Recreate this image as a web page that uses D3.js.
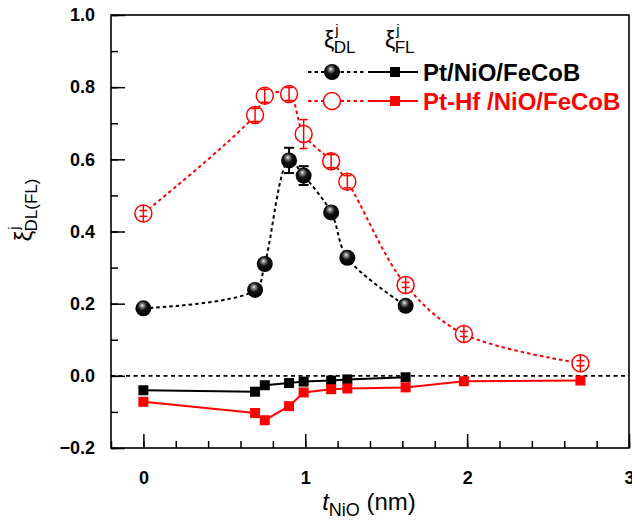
<!DOCTYPE html>
<html>
<head>
<meta charset="utf-8">
<script src="https://cdn.jsdelivr.net/npm/d3@7"></script>
<style>
  body { margin: 0; background: #fff; }
  text { font-family: "Liberation Sans", Arial, sans-serif; }
</style>
</head>
<body>
<svg id="chart" width="632" height="522"></svg>
<script>
// thickness of NiO (nm)
const xPt = [0, 0.69, 0.75, 0.90, 0.99, 1.16, 1.26, 1.62];
const xPtHf = [0, 0.69, 0.75, 0.90, 0.99, 1.16, 1.26, 1.62, 1.98, 2.70];

// damping-like (DL) and field-like (FL) efficiencies
const dlPt = [0.187, 0.238, 0.310, 0.597, 0.555, 0.453, 0.327, 0.194];
const dlPtErr = [0.008, 0.008, 0.008, 0.035, 0.026, 0.015, 0.008, 0.008];
const flPt = [-0.040, -0.044, -0.026, -0.020, -0.016, -0.013, -0.010, -0.004];

const dlPtHf = [0.450, 0.723, 0.776, 0.781, 0.670, 0.595, 0.538, 0.252, 0.116, 0.035];
const dlPtHfErr = [0.008, 0.018, 0.018, 0.018, 0.04, 0.018, 0.017, 0.007, 0.007, 0.007];
const flPtHf = [-0.072, -0.103, -0.123, -0.084, -0.046, -0.037, -0.035, -0.032, -0.015, -0.013];

const xTicks = [0, 1, 2, 3];
const yTicks = [-0.2, 0.0, 0.2, 0.4, 0.6, 0.8, 1.0];
const legendNames = ["Pt/NiO/FeCoB", "Pt-Hf /NiO/FeCoB"];

const margin = {top: 15, bottom: 74, left: 111, right: 3};
const W = 632, H = 522;
const width = W - margin.left - margin.right;
const height = H - margin.top - margin.bottom;
const RED = "#ff0000";

const x = d3.scaleLinear().domain([-0.2, 3]).range([0, width]);
const y = d3.scaleLinear().domain([-0.2, 1.0]).range([height, 0]);

const svg = d3.select("#chart");
const defs = svg.append("defs");
const grad = defs.append("radialGradient")
    .attr("id", "ball")
    .attr("cx", "45%").attr("cy", "40%").attr("r", "60%")
    .attr("fx", "42%").attr("fy", "30%");
grad.append("stop").attr("offset", "0%").attr("stop-color", "#f4f4f4");
grad.append("stop").attr("offset", "18%").attr("stop-color", "#8a8a8a");
grad.append("stop").attr("offset", "48%").attr("stop-color", "#111");
grad.append("stop").attr("offset", "100%").attr("stop-color", "#000");

const g = svg.append("g")
    .attr("transform", `translate(${margin.left},${margin.top})`);

// axes with inward ticks
const xMinor = d3.range(-0.2, 3.0001, 0.2);
const yMinor = d3.range(-0.2, 1.0001, 0.1);

g.append("g")
    .attr("transform", `translate(0,${height})`)
    .call(d3.axisBottom(x).tickValues(xMinor).tickSize(-7).tickFormat(""))
    .call(a => a.select(".domain").remove());
g.append("g")
    .attr("transform", `translate(0,${height})`)
    .call(d3.axisBottom(x).tickValues(xTicks).tickSize(-14).tickFormat(d3.format("d")).tickPadding(23))
    .call(a => a.select(".domain").remove());
g.append("g")
    .call(d3.axisLeft(y).tickValues(yMinor).tickSize(-7).tickFormat(""))
    .call(a => a.select(".domain").remove());
g.append("g")
    .call(d3.axisLeft(y).tickValues(yTicks).tickSize(-14).tickFormat(d3.format(".1f")).tickPadding(16))
    .call(a => a.select(".domain").remove());

g.selectAll(".tick line").attr("stroke", "#000").attr("stroke-width", 1.5);
g.selectAll(".tick text")
    .attr("font-family", "Liberation Sans, Arial, sans-serif")
    .attr("font-size", 18)
    .attr("font-weight", "bold")
    .attr("fill", "#000");

g.append("rect")
    .attr("width", width).attr("height", height)
    .attr("fill", "none").attr("stroke", "#000").attr("stroke-width", 1.6);

// zero line
g.append("line")
    .attr("x1", 0).attr("x2", width)
    .attr("y1", y(0)).attr("y2", y(0))
    .attr("stroke", "#000").attr("stroke-width", 1.6)
    .attr("stroke-dasharray", "4,3.5");

const ptFl = xPt.map((d, i) => ({x: d, v: flPt[i]}));
const hfFl = xPtHf.map((d, i) => ({x: d, v: flPtHf[i]}));
const ptDl = xPt.map((d, i) => ({x: d, v: dlPt[i], e: dlPtErr[i]}));
const hfDl = xPtHf.map((d, i) => ({x: d, v: dlPtHf[i], e: dlPtHfErr[i]}));

const straight = d3.line().x(d => x(d.x)).y(d => y(d.v));
const smooth = d3.line().x(d => x(d.x)).y(d => y(d.v)).curve(d3.curveCatmullRom.alpha(0.5));

function squares(data, color, size) {
    g.append("path").datum(data)
        .attr("d", straight)
        .attr("fill", "none").attr("stroke", color).attr("stroke-width", 2);
    g.selectAll(null).data(data).enter().append("rect")
        .attr("x", d => x(d.x) - size / 2)
        .attr("y", d => y(d.v) - size / 2)
        .attr("width", size).attr("height", size)
        .attr("fill", color);
}

squares(ptFl, "#000", 10);
squares(hfFl, RED, 10);

// minStem: the vertical stroke never shorter than this (px, each side)
function errorBars(data, color, cap, sw, minStem) {
    const eb = g.selectAll(null).data(data).enter().append("g")
        .attr("stroke", color).attr("stroke-width", sw);
    const half = d => Math.max(minStem, y(d.v - d.e) - y(d.v));
    eb.append("line")
        .attr("x1", d => x(d.x)).attr("x2", d => x(d.x))
        .attr("y1", d => y(d.v) - half(d)).attr("y2", d => y(d.v) + half(d));
    eb.append("line")
        .attr("x1", d => x(d.x) - cap).attr("x2", d => x(d.x) + cap)
        .attr("y1", d => y(d.v + d.e)).attr("y2", d => y(d.v + d.e));
    eb.append("line")
        .attr("x1", d => x(d.x) - cap).attr("x2", d => x(d.x) + cap)
        .attr("y1", d => y(d.v - d.e)).attr("y2", d => y(d.v - d.e));
}

// Pt DL: dotted black with shaded balls
g.append("path").datum(ptDl)
    .attr("d", smooth)
    .attr("fill", "none").attr("stroke", "#000").attr("stroke-width", 2)
    .attr("stroke-dasharray", "3.5,3");
errorBars(ptDl, "#000", 5, 2, 0);
g.selectAll(null).data(ptDl).enter().append("circle")
    .attr("cx", d => x(d.x)).attr("cy", d => y(d.v)).attr("r", 8)
    .attr("fill", "url(#ball)");

// Pt-Hf DL: dotted red with open circles
g.append("path").datum(hfDl)
    .attr("d", smooth)
    .attr("fill", "none").attr("stroke", RED).attr("stroke-width", 2)
    .attr("stroke-dasharray", "3.5,3");
g.selectAll(null).data(hfDl).enter().append("circle")
    .attr("cx", d => x(d.x)).attr("cy", d => y(d.v)).attr("r", 8.5)
    .attr("fill", "#fff").attr("stroke", RED).attr("stroke-width", 1.5);
errorBars(hfDl, RED, 4, 1.5, 8.5);

// axis titles
const xt = svg.append("text")
    .attr("x", 369).attr("y", 510)
    .attr("text-anchor", "middle")
    .attr("font-size", 24);
xt.append("tspan").attr("font-style", "italic").text("t");
xt.append("tspan").attr("font-size", 18).attr("dy", 6).text("NiO");
xt.append("tspan").attr("dy", -6).text(" (nm)");

function xiLabel(sel, sub) {
    sel.append("tspan").text("ξ");
    sel.append("tspan").attr("font-size", 15).attr("dy", -13).attr("dx", 1).text("j");
    sel.append("tspan").attr("font-size", 17).attr("dy", 18).attr("dx", -5).text(sub);
}

const yt = svg.append("text")
    .attr("transform", "translate(32,210) rotate(-90)")
    .attr("text-anchor", "middle")
    .attr("font-size", 24);
xiLabel(yt, "DL(FL)");

// legend
const leg = svg.append("g");
[["DL", 324], ["FL", 385]].forEach(([s, lx]) => {
    const t = leg.append("text").attr("x", lx).attr("y", 48).attr("font-size", 23);
    xiLabel(t, s);
});

const rows = [
    {name: legendNames[0], color: "#000", yy: 72, ball: true},
    {name: legendNames[1], color: RED, yy: 101, ball: false}
];
rows.forEach(r => {
    leg.append("line").attr("x1", 308).attr("x2", 365).attr("y1", r.yy).attr("y2", r.yy)
        .attr("stroke", r.color).attr("stroke-width", 2).attr("stroke-dasharray", "3.5,3");
    if (r.ball) {
        leg.append("circle").attr("cx", 332).attr("cy", r.yy).attr("r", 8).attr("fill", "url(#ball)");
    } else {
        leg.append("circle").attr("cx", 332).attr("cy", r.yy).attr("r", 8.5)
            .attr("fill", "#fff").attr("stroke", r.color).attr("stroke-width", 1.5);
    }
    leg.append("line").attr("x1", 368).attr("x2", 418).attr("y1", r.yy).attr("y2", r.yy)
        .attr("stroke", r.color).attr("stroke-width", 2);
    leg.append("rect").attr("x", 390).attr("y", r.yy - 5).attr("width", 10).attr("height", 10)
        .attr("fill", r.color);
    leg.append("text").attr("x", 423).attr("y", r.yy + 8.5)
        .attr("font-size", 24).attr("font-weight", "bold")
        .attr("fill", r.color).text(r.name);
});
</script>
</body>
</html>
